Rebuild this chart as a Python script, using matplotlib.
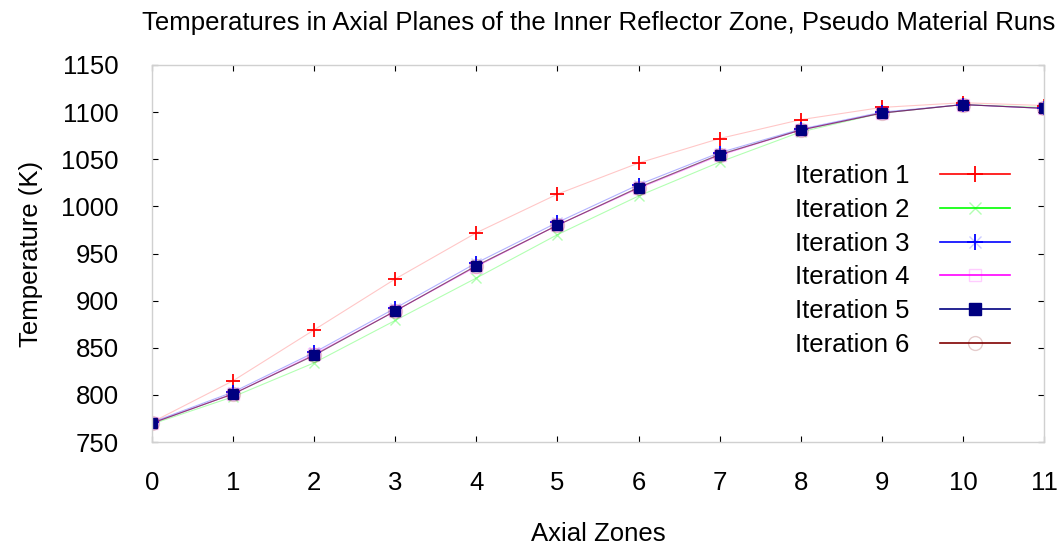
import numpy as np
import matplotlib
matplotlib.use("Agg")
import matplotlib.pyplot as plt
from matplotlib.lines import Line2D

plt.rcParams['font.family'] = ['Liberation Sans', 'DejaVu Sans']

zones = [0, 1, 2, 3, 4, 5, 6, 7, 8, 9, 10, 11]
it1 = [771, 815, 869, 923, 972, 1013, 1046, 1072, 1092, 1105, 1110, 1107]
it2 = [769, 798, 834, 879, 924, 970, 1011, 1047, 1079, 1099, 1108, 1105]
it3 = [771, 803, 845, 892, 940, 983, 1023, 1057, 1082, 1100, 1108, 1104]
it4 = [770, 801, 843, 889, 936, 980, 1019, 1054, 1081, 1099, 1108, 1104]
it5 = [770, 801, 842, 889, 937, 980, 1020, 1055, 1081, 1099, 1108, 1104]
it6 = [770, 801, 842, 889, 937, 980, 1020, 1055, 1081, 1099, 1108, 1104]
labels = ["Iteration 1", "Iteration 2", "Iteration 3",
          "Iteration 4", "Iteration 5", "Iteration 6"]

fs = 18.5

fig = plt.figure(figsize=(10.63, 5.5), dpi=100)
ax = fig.add_axes([152/1063, 108/550, (1044-152)/1063, (442-65)/550])

# thin faint lines, markers on top
ax.plot(zones, it1, color='red', lw=0.8, alpha=0.22)
ax.plot(zones, it2, color='#00ff00', lw=0.8, alpha=0.3)
ax.plot(zones, it3, color='blue', lw=0.8, alpha=0.3)
ax.plot(zones, it4, color='magenta', lw=0.8, alpha=0.35)
ax.plot(zones, it5, color='navy', lw=0.8, alpha=0.4)
ax.plot(zones, it6, color='#800000', lw=0.8, alpha=0.4)

ax.plot(zones, it1, ls='none', marker='+', ms=10, mew=1.3, color='red')
ax.plot(zones, it2, ls='none', marker='x', ms=7, mew=1, color='#00ff00', alpha=0.3)
ax.plot(zones, it3, ls='none', marker='+', ms=10, mew=1.3, color='blue')
ax.plot(zones, it3, ls='none', marker='x', ms=7, mew=1, color='blue', alpha=0.2)
ax.plot(zones, it4, ls='none', marker='s', ms=8, mew=1, mfc='none', mec='magenta', alpha=0.2)
ax.plot(zones, it5, ls='none', marker='s', ms=7, color='navy')
ax.plot(zones, it6, ls='none', marker='o', ms=10, mew=1, mfc='none', mec='#800000', alpha=0.2)

ax.set_xlim(0, 11)
ax.set_ylim(750, 1150)
ax.set_xticks(range(0, 12))
ax.set_yticks(range(750, 1151, 50))
ax.tick_params(direction='in', length=4.5, width=0.8, color='black',
               top=True, right=True, labelsize=fs)
ax.tick_params(axis='x', pad=21)
ax.tick_params(axis='y', pad=24)
for sp in ax.spines.values():
    sp.set_color('#d0d0d0')
    sp.set_linewidth(1)

ax.set_xlabel("Axial Zones", fontsize=fs, labelpad=19)
ax.set_ylabel("Temperature (K)", fontsize=fs, labelpad=13)
fig.text(599/1063, 1 - 23/550, "Temperatures in Axial Planes of the Inner Reflector Zone, Pseudo Material Runs",
         fontsize=fs, ha='center', va='center')

# legend entries: solid line with the marker in the middle
handles = [
    Line2D([], [], color='red', lw=1.2, marker='+', ms=12, mew=1.3),
    (Line2D([], [], color='#00ff00', lw=1.2),
     Line2D([], [], ls='none', marker='x', ms=8, mew=1, color='#00ff00', alpha=0.3)),
    (Line2D([], [], color='blue', lw=1.2, marker='+', ms=12, mew=1.3),
     Line2D([], [], ls='none', marker='x', ms=8, mew=1, color='blue', alpha=0.2)),
    (Line2D([], [], color='magenta', lw=1.2),
     Line2D([], [], ls='none', marker='s', ms=9, mfc='none', mec='magenta', alpha=0.2)),
    Line2D([], [], color='navy', lw=1.2, marker='s', ms=8),
    (Line2D([], [], color='#800000', lw=1.2),
     Line2D([], [], ls='none', marker='o', ms=10, mfc='none', mec='#800000', alpha=0.2)),
]
ax.legend(handles, labels, loc='upper left', bbox_to_anchor=(795/1063, 1 - 164/550),
          bbox_transform=fig.transFigure, frameon=False, markerfirst=False,
          fontsize=fs, handlelength=2.7, handletextpad=1.2, labelspacing=0.38,
          borderpad=0, borderaxespad=0)

plt.savefig("out.png", dpi=100)
